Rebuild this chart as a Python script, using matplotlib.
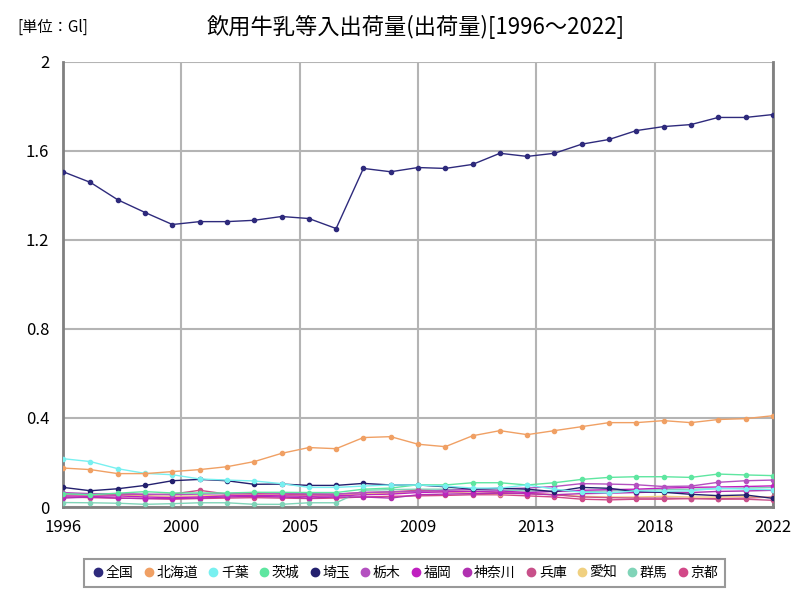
import numpy as np
import matplotlib.pyplot as plt
from matplotlib.lines import Line2D

plt.rcParams['font.family'] = ['Noto Sans CJK JP', 'DejaVu Sans']

years = np.arange(1996, 2023)

names = ["全国", "北海道", "千葉", "茨城", "埼玉", "栃木", "福岡",
         "神奈川", "兵庫", "愛知", "群馬", "京都"]
colors = ["#2e2a7c", "#f0a064", "#78f0f0", "#5ee6a0", "#23206e", "#b450c0",
          "#c020c0", "#b030b0", "#c8508a", "#f0d080", "#80d4b8", "#d24888"]

zenkoku = [1.506, 1.458, 1.380, 1.323, 1.269, 1.282, 1.282, 1.288, 1.305,
           1.296, 1.251, 1.521, 1.506, 1.525, 1.521, 1.539, 1.589, 1.575,
           1.589, 1.630, 1.651, 1.691, 1.709, 1.718, 1.750, 1.750, 1.763]
hokkaido = [0.175, 0.168, 0.150, 0.150, 0.159, 0.168, 0.181, 0.204, 0.241,
            0.267, 0.262, 0.312, 0.316, 0.282, 0.271, 0.320, 0.343, 0.325,
            0.343, 0.361, 0.379, 0.379, 0.388, 0.379, 0.393, 0.397, 0.410]
chiba = [0.217, 0.204, 0.172, 0.151, 0.145, 0.126, 0.121, 0.117, 0.105,
         0.088, 0.088, 0.094, 0.099, 0.099, 0.094, 0.085, 0.085, 0.099,
         0.080, 0.067, 0.063, 0.073, 0.070, 0.073, 0.084, 0.080, 0.078]
ibaraki = [0.060, 0.055, 0.062, 0.069, 0.063, 0.063, 0.063, 0.066, 0.066,
           0.065, 0.065, 0.080, 0.085, 0.100, 0.099, 0.109, 0.109, 0.099,
           0.109, 0.124, 0.133, 0.136, 0.136, 0.133, 0.148, 0.144, 0.141]
saitama = [0.088, 0.073, 0.082, 0.097, 0.118, 0.124, 0.118, 0.102, 0.103,
           0.097, 0.097, 0.106, 0.099, 0.099, 0.091, 0.080, 0.084, 0.080,
           0.069, 0.088, 0.084, 0.069, 0.066, 0.057, 0.051, 0.054, 0.039]
tochigi = [0.065, 0.060, 0.060, 0.058, 0.055, 0.058, 0.060, 0.065, 0.062,
           0.060, 0.058, 0.065, 0.068, 0.070, 0.075, 0.080, 0.082, 0.085,
           0.092, 0.105, 0.103, 0.100, 0.092, 0.094, 0.111, 0.118, 0.121]
fukuoka = [0.050, 0.048, 0.050, 0.045, 0.042, 0.045, 0.050, 0.052, 0.050,
           0.048, 0.050, 0.055, 0.058, 0.065, 0.068, 0.070, 0.072, 0.065,
           0.070, 0.075, 0.078, 0.080, 0.085, 0.088, 0.090, 0.092, 0.095]
kanagawa = [0.040, 0.045, 0.040, 0.038, 0.038, 0.040, 0.045, 0.048, 0.045,
            0.040, 0.045, 0.045, 0.040, 0.055, 0.058, 0.060, 0.062, 0.060,
            0.055, 0.060, 0.062, 0.065, 0.068, 0.065, 0.070, 0.072, 0.075]
hyogo = [0.060, 0.055, 0.058, 0.055, 0.058, 0.075, 0.058, 0.060, 0.058,
         0.055, 0.058, 0.065, 0.068, 0.075, 0.072, 0.070, 0.065, 0.060,
         0.055, 0.045, 0.042, 0.040, 0.040, 0.038, 0.035, 0.035, 0.030]
aichi = [0.055, 0.050, 0.052, 0.050, 0.048, 0.050, 0.052, 0.055, 0.052,
         0.050, 0.052, 0.060, 0.062, 0.070, 0.068, 0.062, 0.060, 0.062,
         0.055, 0.048, 0.045, 0.045, 0.048, 0.045, 0.045, 0.048, 0.042]
gunma = [0.020, 0.019, 0.017, 0.012, 0.015, 0.019, 0.019, 0.012, 0.012,
         0.019, 0.019, 0.075, 0.078, 0.080, 0.080, 0.078, 0.075, 0.072,
         0.070, 0.070, 0.072, 0.075, 0.078, 0.080, 0.082, 0.085, 0.088]
kyoto = [0.045, 0.042, 0.040, 0.038, 0.035, 0.038, 0.040, 0.042, 0.040,
         0.038, 0.040, 0.045, 0.048, 0.050, 0.052, 0.055, 0.055, 0.050,
         0.045, 0.035, 0.032, 0.035, 0.035, 0.038, 0.038, 0.040, 0.045]

series = [zenkoku, hokkaido, chiba, ibaraki, saitama, tochigi, fukuoka,
          kanagawa, hyogo, aichi, gunma, kyoto]

fig = plt.figure(figsize=(8, 6), dpi=100)
ax = fig.add_axes([0.079, 0.155, 0.887, 0.742])

# draw smaller series first so 全国 ends on top
for name, vals, col in list(zip(names, series, colors))[::-1]:
    ax.plot(years, vals, color=col, lw=1.0, marker='o', ms=3, zorder=3)

ax.set_xlim(1996, 2022)
ax.set_ylim(0, 2)
xt = np.linspace(1996, 2022, 7)
ax.set_xticks(xt)
ax.set_xticklabels([str(int(round(v))) for v in xt], fontsize=12)
yt = [0, 0.4, 0.8, 1.2, 1.6, 2]
ax.set_yticks(yt)
ax.set_yticklabels(["0", "0.4", "0.8", "1.2", "1.6", "2"], fontsize=12)
ax.tick_params(axis="x", length=0, pad=9)
ax.tick_params(axis="y", length=0, pad=10)
ax.grid(True, color="#b4b4b4", lw=1.5)
ax.set_axisbelow(True)
for s in ["left", "bottom", "right"]:
    ax.spines[s].set_color("#808080")
    ax.spines[s].set_linewidth(2)
ax.spines["top"].set_visible(False)

fig.text(0.52, 0.955, "飲用牛乳等入出荷量(出荷量)[1996～2022]", ha="center",
         va="center", fontsize=16)
fig.text(0.022, 0.955, "[単位：Gl]", ha="left", va="center", fontsize=11)

handles = [Line2D([], [], color=c, marker='o', ls='none', ms=6) for c in colors]
leg = fig.legend(handles, names, loc="center", bbox_to_anchor=(0.506, 0.045),
                 ncol=12, fontsize=10, frameon=True, fancybox=False,
                 handletextpad=0.05, columnspacing=0.6, handlelength=1.0,
                 borderpad=0.5)
leg.get_frame().set_edgecolor("#808080")
leg.get_frame().set_linewidth(1.5)

fig.savefig("out.png")
